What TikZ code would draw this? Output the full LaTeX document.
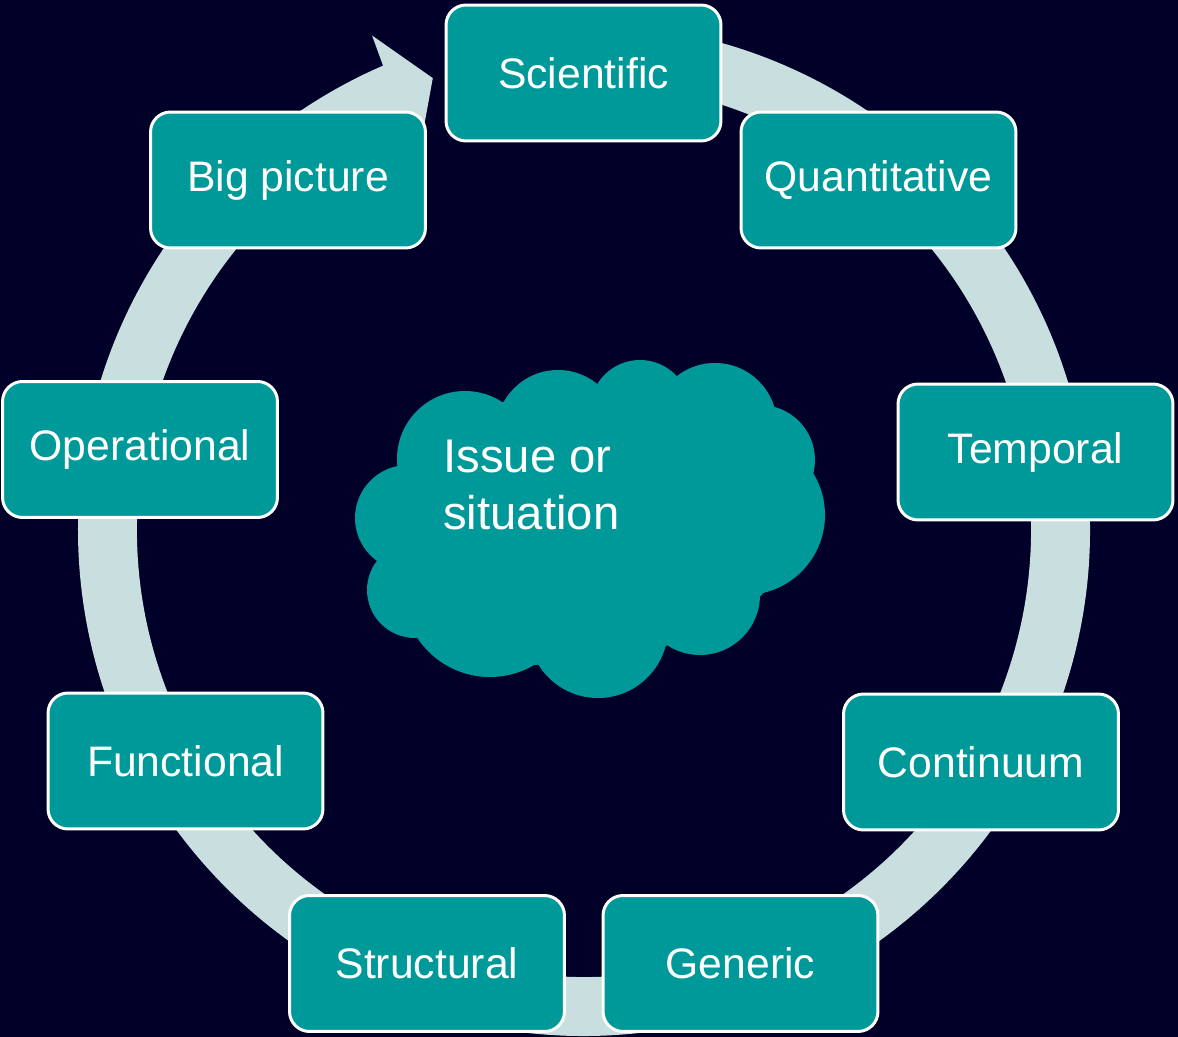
\documentclass[tikz,border=0pt]{standalone}
\usepackage{fontspec}
\setmainfont{Liberation Sans}
\definecolor{bgc}{RGB}{0,0,40}
\definecolor{teal1}{RGB}{0,153,153}
\definecolor{ringc}{RGB}{201,222,222}
\tikzset{
  box/.style={draw=white, line width=1.7pt, fill=teal1, rounded corners=0.4cm,
    minimum width=5.5cm, minimum height=2.72cm, text=white, inner sep=0pt,
    font=\fontsize{24.3pt}{28pt}\selectfont},
  cloudpart/.style={fill=teal1}
}
\begin{document}
\begin{tikzpicture}[x=0.02cm,y=0.02cm]
\fill[bgc] (0,0) rectangle (1178,-1037);
\useasboundingbox (0,0) rectangle (1178,-1037);
% ring arrow
\begin{scope}[shift={(584,-530)}]
\fill[ringc] (95:506) arc[start angle=95,end angle=-246.6,radius=506]
  -- (-246.8:538) -- (-251.5:476.5) -- (-246.8:416) -- (-246.6:447)
  arc[start angle=-246.6,end angle=95,radius=447] -- cycle;
\end{scope}
% cloud
\fill[cloudpart] (397,-470) -- (508,-399) -- (600,-385) -- (681,-378) -- (772,-403)
  -- (812,-480) -- (762,-595) -- (666,-646) -- (535,-665) -- (418,-635) -- (377,-558) -- cycle;
\fill[cloudpart] (465,-459) circle[radius=68];
\fill[cloudpart] (558,-432) circle[radius=62];
\fill[cloudpart] (640,-410) circle[radius=50];
\fill[cloudpart] (715,-425) circle[radius=62];
\fill[cloudpart] (760,-460) circle[radius=55];
\fill[cloudpart] (745,-515) circle[radius=80];
\fill[cloudpart] (700,-595) circle[radius=60];
\fill[cloudpart] (598,-628) circle[radius=70];
\fill[cloudpart] (490,-590) circle[radius=87];
\fill[cloudpart] (415,-590) circle[radius=48];
\fill[cloudpart] (408,-518) circle[radius=53];
\node (issue) [anchor=base west, align=left, inner sep=0pt, text=white,
  font=\fontsize{26.9pt}{32.9pt}\selectfont] at (443,-530) {Issue or\\situation};
% boxes
\node[box] (sci) at (583.5,-73) {Scientific};
\node[box] (quant) at (878.5,-180) {Quantitative};
\node[box] (temp) at (1035.5,-452) {Temporal};
\node[box] (cont) at (981,-762) {Continuum};
\node[box] (gen) at (740.5,-963.5) {Generic};
\node[box] (struct) at (427,-963.5) {Structural};
\node[box] (func) at (185.5,-761) {Functional};
\node[box] (oper) at (140,-449.5) {Operational};
\node[box] (big) at (288,-180) {Big picture};
\end{tikzpicture}
\end{document}
